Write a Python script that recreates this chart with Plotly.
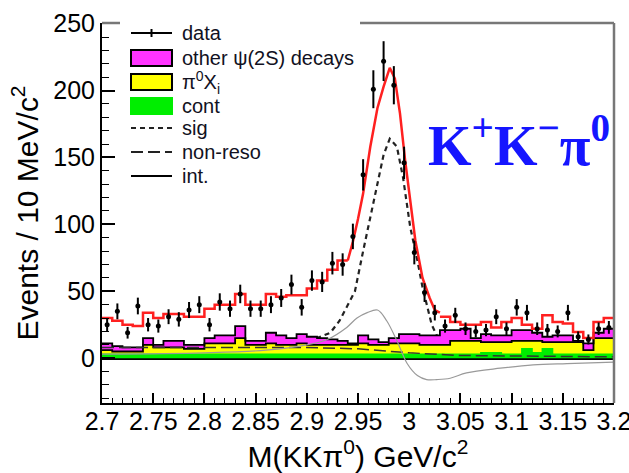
import plotly.graph_objects as go

# ---- binning: 10 MeV/c^2 bins over 2.70 - 3.20 GeV/c^2 ----
mass_lo = 2.70
bin_width = 0.01
n_bins = 50
bin_edges = [round(mass_lo + bin_width * i, 3) for i in range(n_bins + 1)]
bin_centers = [round(mass_lo + bin_width * (i + 0.5), 4) for i in range(n_bins)]

# ---- observed events per bin ----
data_counts = [25, 35, 19, 39, 25, 24, 31, 29, 36, 40,
               25, 42, 37, 48, 37, 37, 40, 45, 55, 38,
               58, 57, 71, 70, 91, 137, 201, 222, 204, 146,
               79, 49, 34, 24, 32, 22, 20, 21, 31, 22,
               38, 34, 22, 21, 20, 34, 16, 14, 22, 23]

# ---- background histograms (per bin) ----
cont = [3, 3, 3, 3, 3, 3, 3, 3, 3, 3,
        3, 3, 3, 3, 3, 3, 3, 3, 3, 3,
        3, 3, 3, 3, 3, 3, 3, 3, 3, 3,
        3, 3, 3, 3, 3, 3, 3, 4, 4, 3,
        3, 7, 4, 7, 3, 3, 3, 3, 3, 3]
pi0_xi = [3, 2, 2, 2, 7, 5, 5, 5, 4, 4,
          8, 8, 8, 12, 7, 7, 8, 7, 7, 8,
          7, 7, 7, 7, 7, 8, 7, 7, 8, 8,
          8, 7, 7, 7, 10, 10, 10, 8, 8, 9,
          10, 6, 9, 5, 9, 9, 9, 3, 12, 12]
other_psi2s = [5, 4, 3, 3, 5, 2, 5, 5, 3, 3,
               4, 6, 6, 9, 3, 3, 8, 7, 5, 7,
               6, 5, 4, 3, 1, 6, 4, 2, 4, 7,
               7, 7, 7, 11, 8, 9, 2, 6, 5, 5,
               8, 8, 6, 4, 5, 5, 1, 5, 4, 7]

# ---- fit components ----
sig_mass = [2.70, 2.80, 2.85, 2.88, 2.90, 2.923, 2.932, 2.942, 2.947, 2.955,
            2.962, 2.969, 2.975, 2.981, 2.988, 2.994, 3.001, 3.008, 3.013,
            3.022, 3.030, 3.040, 3.060, 3.100, 3.200]
sig_val = [2, 3, 5, 8, 12, 19, 28, 42, 50, 80,
           105, 128, 152, 164, 158, 135, 98, 73, 53,
           25, 12, 7, 4, 2.5, 1.5]

nonreso_mass = [2.70, 2.80, 2.90, 2.95, 3.00, 3.05, 3.10, 3.20]
nonreso_val = [8, 8, 8, 7, 4, 2, 1.5, 1]

int_mass = [2.70, 2.80, 2.86, 2.90, 2.92, 2.939, 2.949, 2.959, 2.969, 2.978,
            2.988, 2.998, 3.008, 3.017, 3.027, 3.040, 3.056, 3.089, 3.121,
            3.154, 3.200]
int_val = [3, 4, 6, 10, 14, 23, 30, 34, 36, 28,
           13, -4, -13, -16, -16, -15, -11, -7.5, -5,
           -4, -3]

# total fit: binned below and above the peak, continuous across it
total_low = [30, 28, 25, 24, 34, 30, 33, 33, 31, 31,
             37, 40, 40, 48, 40, 40, 48, 46, 47, 47,
             52, 58, 66, 73]                     # bins 0-23
total_peak_mass = [2.940, 2.945, 2.950, 2.955, 2.962, 2.969, 2.975, 2.978,
                   2.981, 2.986, 2.991, 2.996, 3.001, 3.006, 3.013, 3.020,
                   3.025, 3.030]
total_peak_val = [73, 87, 104, 123, 158, 187, 203, 211,
                  217, 209, 183, 148, 116, 88, 60, 45,
                  36, 34]
total_high = [31, 27, 25, 25, 27, 23, 27, 30, 25, 22,
              32, 27, 26, 19.5, 15, 27, 30]      # bins 33-49

# axis tick labels
x_ticks = [2.7, 2.75, 2.8, 2.85, 2.9, 2.95, 3.0, 3.05, 3.1, 3.15, 3.2]
x_tick_text = ["2.7", "2.75", "2.8", "2.85", "2.9", "2.95", "3", "3.05", "3.1", "3.15", "3.2"]
y_ticks = [0, 50, 100, 150, 200, 250]

# ---- stacking ----
stack_cont = list(cont)
stack_pi0 = [a + b for a, b in zip(stack_cont, pi0_xi)]
stack_other = [a + b for a, b in zip(stack_pi0, other_psi2s)]


def steps(vals):
    return vals + [vals[-1]]


MAGENTA = "#ff33ff"
YELLOW = "#ffff00"
GREEN = "#00ee00"
RED = "#ff2020"

fig = go.Figure()

# signal shape sits underneath the background histograms
fig.add_trace(go.Scatter(x=sig_mass, y=sig_val, mode="lines",
                         line=dict(color="#222222", width=2.2, dash="5px,4px")))

fig.add_trace(go.Scatter(x=bin_edges, y=steps(stack_cont), mode="lines",
                         line=dict(color=GREEN, width=1.5, shape="hv"),
                         fill="tozeroy", fillcolor=GREEN))
fig.add_trace(go.Scatter(x=bin_edges, y=steps(stack_pi0), mode="lines",
                         line=dict(color="black", width=1.8, shape="hv"),
                         fill="tonexty", fillcolor=YELLOW))
fig.add_trace(go.Scatter(x=bin_edges, y=steps(stack_other), mode="lines",
                         line=dict(color="black", width=1.8, shape="hv"),
                         fill="tonexty", fillcolor=MAGENTA))

fig.add_trace(go.Scatter(x=nonreso_mass, y=nonreso_val, mode="lines",
                         line=dict(color="#333333", width=1.5, dash="12px,5px")))
fig.add_trace(go.Scatter(x=int_mass, y=int_val, mode="lines", line_shape="spline",
                         line=dict(color="#9a9a9a", width=1.2)))

# total fit
fig.add_trace(go.Scatter(x=bin_edges[:24] + [bin_edges[24]], y=total_low + [total_low[-1]],
                         mode="lines", line=dict(color=RED, width=2.5, shape="hv")))
fig.add_trace(go.Scatter(x=total_peak_mass, y=total_peak_val, mode="lines",
                         line=dict(color=RED, width=2.5)))
fig.add_trace(go.Scatter(x=bin_edges[33:50] + [bin_edges[50]], y=total_high + [total_high[-1]],
                         mode="lines", line=dict(color=RED, width=2.5, shape="hv")))

# data points with Poisson errors
fig.add_trace(go.Scatter(x=bin_centers, y=data_counts, mode="markers",
                         marker=dict(color="black", size=5, symbol="circle"),
                         error_y=dict(type="data", array=[n ** 0.5 for n in data_counts],
                                      color="black", thickness=2, width=0)))

SANS = "Liberation Sans, Arial, sans-serif"

fig.update_layout(
    width=629, height=473,
    margin=dict(l=102, r=15, t=23, b=70, autoexpand=False),
    plot_bgcolor="white", paper_bgcolor="white",
    showlegend=False,
    font=dict(family=SANS, color="black"),
)
fig.update_xaxes(
    range=[2.69999, 3.20001], showgrid=False, zeroline=False, automargin=False,
    showline=True, linecolor="black", linewidth=2,
    ticks="inside", ticklen=10, tickwidth=1.5, tickcolor="black",
    tickvals=x_ticks, ticktext=x_tick_text,
    ticklabeloverflow="allow", ticklabelstandoff=-5,
    tickfont=dict(family=SANS, size=25, color="black"),
    minor=dict(dtick=0.01, tick0=2.7, ticks="inside", ticklen=5, tickwidth=1.2, tickcolor="black"),
    title=dict(text="M(KKπ<sup>0</sup>) GeV/c<sup>2</sup>", font=dict(family=SANS, size=30),
               standoff=8),
)
fig.update_yaxes(
    range=[-33.5, 250.5], showgrid=False, automargin=False,
    zeroline=True, zerolinecolor="black", zerolinewidth=2.5,
    showline=True, linecolor="black", linewidth=2,
    ticks="inside", ticklen=13, tickwidth=1.5, tickcolor="black",
    tickvals=y_ticks,
    tickfont=dict(family=SANS, size=25, color="black"),
    minor=dict(dtick=10, tick0=0, ticks="inside", ticklen=7, tickwidth=1.2, tickcolor="black"),
    title=dict(text="Events / 10 MeV/c<sup>2</sup>", font=dict(family=SANS, size=30),
               standoff=6),
)

# ---- frame and legend, placed in paper coordinates ----
PLOT_L, PLOT_R, PLOT_T, PLOT_B = 102, 614, 23, 403


def px(p):
    return (p - PLOT_L) / (PLOT_R - PLOT_L)


def py(p):
    return (PLOT_B - p) / (PLOT_B - PLOT_T)


shapes = []
frame = dict(type="line", xref="paper", yref="paper", line=dict(color="#777777", width=2.5))
shapes.append(dict(frame, x0=0, x1=px(120), y0=1, y1=1))
shapes.append(dict(frame, x0=px(360), x1=1, y0=1, y1=1))
shapes.append(dict(frame, x0=1, x1=1, y0=0, y1=1))

sym_x0, sym_x1, text_x = px(131), px(172), px(180)
rows = [33, 58, 82, 106, 128, 152, 176]
labels = ["data", "other ψ(2S) decays", "π<sup>0</sup>X<sub>i</sub>", "cont", "sig", "non-reso", "int."]

# data entry: line with error bar and marker
shapes.append(dict(type="line", xref="paper", yref="paper", x0=sym_x0, x1=sym_x1,
                   y0=py(rows[0]), y1=py(rows[0]), line=dict(color="black", width=2)))
shapes.append(dict(type="line", xref="paper", yref="paper", x0=px(151.5), x1=px(151.5),
                   y0=py(rows[0] - 4), y1=py(rows[0] + 4), line=dict(color="black", width=2)))
# filled boxes
for row, fillc, linec in [(rows[1], MAGENTA, "black"), (rows[2], YELLOW, "black"), (rows[3], GREEN, GREEN)]:
    shapes.append(dict(type="rect", xref="paper", yref="paper", x0=sym_x0, x1=sym_x1,
                       y0=py(row + 8), y1=py(row - 8), fillcolor=fillc,
                       line=dict(color=linec, width=2)))
# line styles
for row, dash, col, w in [(rows[4], "5px,4px", "#222222", 2.2), (rows[5], "12px,5px", "#222222", 2.2),
                          (rows[6], "solid", "black", 2)]:
    shapes.append(dict(type="line", xref="paper", yref="paper", x0=sym_x0, x1=sym_x1,
                       y0=py(row), y1=py(row), line=dict(color=col, width=w, dash=dash)))

annotations = []
for row, lab in zip(rows, labels):
    annotations.append(dict(x=text_x, y=py(row), xref="paper", yref="paper", text=lab,
                            showarrow=False, xanchor="left", yanchor="middle",
                            font=dict(family=SANS, size=20, color="#111122")))

annotations.append(dict(x=px(426), y=py(141), xref="paper", yref="paper",
                        text="<b>K<sup>+</sup>K<sup>−</sup>π<sup>0</sup></b>",
                        showarrow=False, xanchor="left", yanchor="middle",
                        font=dict(family="Liberation Serif, Times New Roman, serif", size=56, color="#1515ff")))

fig.update_layout(shapes=shapes, annotations=annotations)

fig.write_html("out.html")
